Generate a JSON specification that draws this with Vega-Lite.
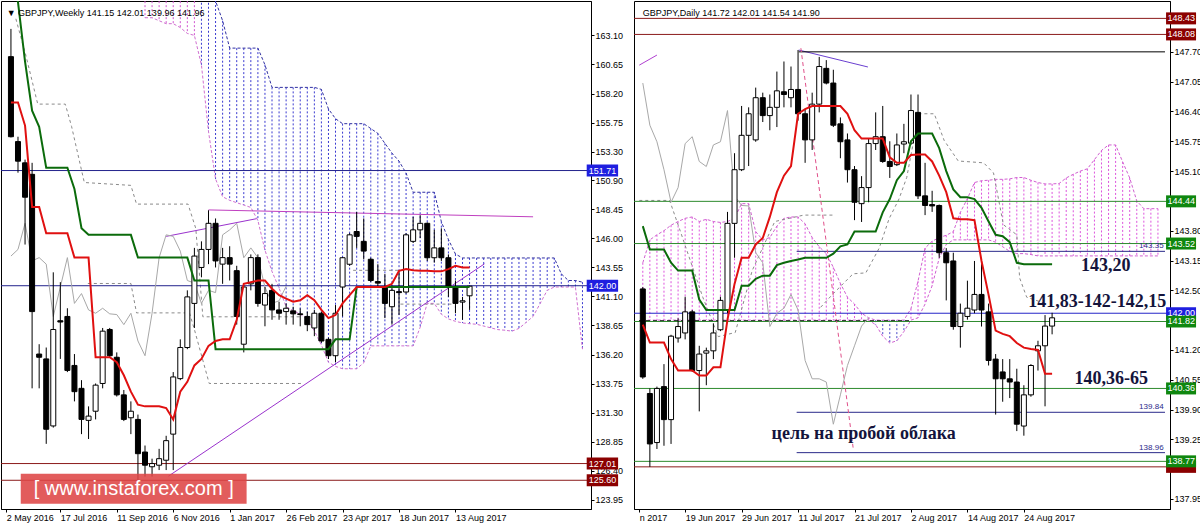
{
"$schema": "https://vega.github.io/schema/vega-lite/v6.json",
"background": "#ffffff",
"padding": 0,
"spacing": 9,
"config": {"view": {"stroke": "#000000", "strokeWidth": 1}, "text": {"font": "Liberation Sans"}, "axis": {"labelOverlap": false, "labelBound": false}},
"datasets": {
"wk": [
{"k":0,"o":161.31,"h":163.65,"l":154.5,"c":154.56,"tk":157.45,"kj":168},
{"k":1,"o":154.15,"h":154.56,"l":151.53,"c":152.5,"tk":157.45,"kj":165.9},
{"k":2,"o":152.36,"h":152.63,"l":145.47,"c":149.46,"tk":155.5,"kj":160.9},
{"k":3,"o":151.39,"h":152.36,"l":133.35,"c":139.82,"tk":148.64,"kj":156.76},
{"k":4,"o":136.24,"h":137.07,"l":133.35,"c":135.97,"tk":148.64,"kj":155.39},
{"k":5,"o":135.83,"h":136.79,"l":128.67,"c":129.9,"tk":146.43,"kj":151.94},
{"k":6,"o":130.18,"h":143.13,"l":130.04,"c":138.31,"tk":146.43,"kj":151.94},
{"k":7,"o":139.05,"h":142.3,"l":135.83,"c":138.94,"tk":146.43,"kj":151.94},
{"k":8,"o":139.41,"h":140.1,"l":134.72,"c":134.86,"tk":146.43,"kj":151.94},
{"k":9,"o":135.28,"h":136.24,"l":132.25,"c":133.07,"tk":144.37,"kj":150.15},
{"k":10,"o":133.35,"h":134.04,"l":129.49,"c":130.73,"tk":144.37,"kj":146.85},
{"k":11,"o":130.65,"h":131.83,"l":129.08,"c":131.01,"tk":144.37,"kj":146.29},
{"k":12,"o":131.42,"h":133.76,"l":130.73,"c":133.62,"tk":135.97,"kj":146.29},
{"k":13,"o":133.76,"h":138.44,"l":133.35,"c":138.17,"tk":135.97,"kj":146.29},
{"k":14,"o":138.31,"h":138.44,"l":135.97,"c":136.1,"tk":135.97,"kj":146.29},
{"k":15,"o":135.97,"h":136.38,"l":132.66,"c":132.8,"tk":135.55,"kj":146.29},
{"k":16,"o":132.8,"h":133.21,"l":130.59,"c":130.73,"tk":134.45,"kj":146.29},
{"k":17,"o":130.87,"h":132.25,"l":129.49,"c":131.42,"tk":133.07,"kj":146.29},
{"k":18,"o":130.73,"h":131.14,"l":125.6,"c":127.84,"tk":131.97,"kj":144.37},
{"k":19,"o":127.98,"h":128.53,"l":125.91,"c":126.87,"tk":131.83,"kj":144.37},
{"k":20,"o":126.74,"h":127.42,"l":125.91,"c":127.01,"tk":131.83,"kj":144.37},
{"k":21,"o":126.87,"h":128.25,"l":126.46,"c":127.42,"tk":131.83,"kj":144.37},
{"k":22,"o":127.29,"h":129.35,"l":126.46,"c":128.94,"tk":131.69,"kj":144.37},
{"k":23,"o":129.49,"h":134.72,"l":126.46,"c":134.31,"tk":130.73,"kj":144.37},
{"k":24,"o":134.17,"h":137.48,"l":134.04,"c":136.79,"tk":133.07,"kj":144.37},
{"k":25,"o":136.79,"h":141.61,"l":136.65,"c":141.06,"tk":133.9,"kj":144.37},
{"k":26,"o":140.51,"h":145.19,"l":138.44,"c":144.5,"tk":135.28,"kj":142.44},
{"k":27,"o":143.54,"h":145.74,"l":142.71,"c":145.06,"tk":135.83,"kj":142.44},
{"k":28,"o":145.06,"h":148.36,"l":143.82,"c":147.26,"tk":136.93,"kj":142.44},
{"k":29,"o":147.26,"h":147.67,"l":143.54,"c":144.09,"tk":137.34,"kj":136.65},
{"k":30,"o":143.82,"h":145.19,"l":142.16,"c":144.37,"tk":137.48,"kj":136.65},
{"k":31,"o":144.37,"h":145.33,"l":142.44,"c":143.82,"tk":137.48,"kj":136.65},
{"k":32,"o":143.27,"h":143.68,"l":138.72,"c":139.41,"tk":139.13,"kj":136.65},
{"k":33,"o":137.07,"h":142.03,"l":136.38,"c":141.89,"tk":142.16,"kj":136.65},
{"k":34,"o":142.16,"h":144.64,"l":141.61,"c":144.37,"tk":142.3,"kj":136.65},
{"k":35,"o":144.37,"h":144.64,"l":140.23,"c":140.51,"tk":142.44,"kj":136.65},
{"k":36,"o":140.37,"h":141.89,"l":138.58,"c":141.34,"tk":142.44,"kj":136.65},
{"k":37,"o":141.61,"h":142.16,"l":139.13,"c":139.96,"tk":141.75,"kj":136.65},
{"k":38,"o":139.96,"h":140.65,"l":139.13,"c":139.68,"tk":141.2,"kj":136.65},
{"k":39,"o":139.82,"h":140.51,"l":138.72,"c":140.1,"tk":140.92,"kj":136.65},
{"k":40,"o":139.88,"h":140.23,"l":138.72,"c":139.63,"tk":140.65,"kj":136.65},
{"k":41,"o":139.63,"h":140.09,"l":138.58,"c":139.57,"tk":140.78,"kj":136.65},
{"k":42,"o":139.41,"h":139.82,"l":138.17,"c":138.72,"tk":141.2,"kj":136.65},
{"k":43,"o":138.44,"h":139.96,"l":137.75,"c":139.68,"tk":140.78,"kj":136.65},
{"k":44,"o":139.68,"h":139.82,"l":137.2,"c":137.34,"tk":139.96,"kj":136.65},
{"k":45,"o":137.48,"h":137.62,"l":135.82,"c":136.1,"tk":139.27,"kj":136.65},
{"k":46,"o":136.1,"h":140.37,"l":135.55,"c":139.68,"tk":139.54,"kj":137.48},
{"k":47,"o":141.89,"h":144.42,"l":139.41,"c":144.36,"tk":140.51,"kj":137.48},
{"k":48,"o":143.81,"h":146.43,"l":143.68,"c":146.29,"tk":141.2,"kj":137.48},
{"k":49,"o":146.57,"h":148.22,"l":145.19,"c":146.16,"tk":141.89,"kj":141.89},
{"k":50,"o":145.74,"h":147.67,"l":144.23,"c":144.92,"tk":141.89,"kj":141.89},
{"k":51,"o":144.23,"h":144.36,"l":142.3,"c":142.44,"tk":141.89,"kj":141.89},
{"k":52,"o":142.35,"h":143.81,"l":141.89,"c":142.22,"tk":141.89,"kj":141.89},
{"k":53,"o":141.89,"h":142.99,"l":139.27,"c":140.51,"tk":141.89,"kj":141.89},
{"k":54,"o":140.23,"h":142.02,"l":138.72,"c":141.61,"tk":142.16,"kj":141.89},
{"k":55,"o":141.5,"h":143.26,"l":139.54,"c":141.42,"tk":143.26,"kj":141.89},
{"k":56,"o":141.47,"h":146.43,"l":141.33,"c":146.29,"tk":143.4,"kj":141.89},
{"k":57,"o":145.74,"h":147.81,"l":145.6,"c":146.71,"tk":143.3,"kj":141.89},
{"k":58,"o":146.71,"h":147.95,"l":146.02,"c":147.26,"tk":143.26,"kj":141.89},
{"k":59,"o":147.26,"h":147.34,"l":144.09,"c":144.36,"tk":143.26,"kj":141.89},
{"k":60,"o":144.36,"h":146.71,"l":143.95,"c":145.19,"tk":143.21,"kj":141.89},
{"k":61,"o":145.19,"h":146.84,"l":144.09,"c":144.36,"tk":143.21,"kj":141.89},
{"k":62,"o":144.36,"h":144.64,"l":141.06,"c":141.89,"tk":143.4,"kj":141.89},
{"k":63,"o":141.89,"h":142.44,"l":139.68,"c":140.51,"tk":143.68,"kj":141.89},
{"k":64,"o":140.62,"h":141.06,"l":139.13,"c":140.73,"tk":143.54,"kj":141.89},
{"k":65,"o":141.15,"h":142.01,"l":139.96,"c":141.96,"tk":143.54,"kj":141.89}
],
"wkCh": [
{"k":0,"v":144.5},{"k":1,"v":145.06},{"k":2,"v":147.26},{"k":3,"v":144.09},{"k":4,"v":144.37},{"k":5,"v":143.82},{"k":6,"v":139.41},{"k":7,"v":141.89},{"k":8,"v":144.37},{"k":9,"v":140.51},{"k":10,"v":141.34},{"k":11,"v":139.96},{"k":12,"v":139.68},{"k":13,"v":140.1},{"k":14,"v":139.63},{"k":15,"v":139.57},{"k":16,"v":138.72},{"k":17,"v":139.68},{"k":18,"v":137.34},{"k":19,"v":136.1},{"k":20,"v":139.68},{"k":21,"v":144.36},{"k":22,"v":146.29},{"k":23,"v":146.16},{"k":24,"v":144.92},{"k":25,"v":142.44},{"k":26,"v":142.22},{"k":27,"v":140.51},{"k":28,"v":141.61},{"k":29,"v":141.42},{"k":30,"v":146.29},{"k":31,"v":146.71},{"k":32,"v":147.26},{"k":33,"v":144.36},{"k":34,"v":145.19},{"k":35,"v":144.36},{"k":36,"v":141.89},{"k":37,"v":140.51},{"k":38,"v":140.73},{"k":39,"v":141.96}
],
"wkCloud": [
{"k":19,"a":167,"b":164.59,"col":"#d055d0"},{"k":20,"a":167,"b":164.59,"col":"#d055d0"},{"k":21,"a":167,"b":164.34,"col":"#d055d0"},{"k":22,"a":167,"b":164.09,"col":"#d055d0"},{"k":23,"a":167,"b":164.09,"col":"#d055d0"},{"k":24,"a":167,"b":163.76,"col":"#d055d0"},{"k":25,"a":167,"b":163.27,"col":"#d055d0"},{"k":26,"a":167,"b":163.1,"col":"#d055d0"},
{"k":27,"a":167.2,"b":160.6,"col":"#3a3ad0"},{"k":28,"a":167.2,"b":155.0,"col":"#3a3ad0"},{"k":29,"a":166,"b":151.0,"col":"#3a3ad0"},{"k":30,"a":164.34,"b":149.5,"col":"#3a3ad0"},{"k":31,"a":162.03,"b":149.2,"col":"#3a3ad0"},{"k":32,"a":162.03,"b":149.0,"col":"#3a3ad0"},{"k":33,"a":162.03,"b":148.8,"col":"#3a3ad0"},{"k":34,"a":162.03,"b":148.6,"col":"#3a3ad0"},{"k":35,"a":162.03,"b":147.5,"col":"#3a3ad0"},{"k":36,"a":160.62,"b":145.0,"col":"#3a3ad0"},{"k":37,"a":158.72,"b":143.2,"col":"#3a3ad0"},{"k":38,"a":158.72,"b":141.8,"col":"#3a3ad0"},{"k":39,"a":158.72,"b":140.23,"col":"#3a3ad0"},{"k":40,"a":158.72,"b":139.9,"col":"#3a3ad0"},{"k":41,"a":158.72,"b":139.6,"col":"#3a3ad0"},{"k":42,"a":158.72,"b":139.2,"col":"#3a3ad0"},{"k":43,"a":158.72,"b":138.2,"col":"#3a3ad0"},{"k":44,"a":158.55,"b":137.0,"col":"#3a3ad0"},{"k":45,"a":156.9,"b":135.55,"col":"#3a3ad0"},{"k":46,"a":156.08,"b":135.2,"col":"#3a3ad0"},{"k":47,"a":155.66,"b":135.0,"col":"#3a3ad0"},{"k":48,"a":155.66,"b":135.0,"col":"#3a3ad0"},{"k":49,"a":155.66,"b":135.0,"col":"#3a3ad0"},{"k":50,"a":155.66,"b":135.5,"col":"#3a3ad0"},{"k":51,"a":155.25,"b":136.93,"col":"#3a3ad0"},{"k":52,"a":154.84,"b":136.93,"col":"#3a3ad0"},{"k":53,"a":154.0,"b":136.93,"col":"#3a3ad0"},{"k":54,"a":153.18,"b":136.93,"col":"#3a3ad0"},{"k":55,"a":152.5,"b":136.93,"col":"#3a3ad0"},{"k":56,"a":151.5,"b":136.93,"col":"#3a3ad0"},{"k":57,"a":149.88,"b":136.93,"col":"#3a3ad0"},{"k":58,"a":149.88,"b":138.5,"col":"#3a3ad0"},{"k":59,"a":149.88,"b":140.51,"col":"#3a3ad0"},{"k":60,"a":149.88,"b":140.51,"col":"#3a3ad0"},{"k":61,"a":147.4,"b":139.6,"col":"#3a3ad0"},{"k":62,"a":145.9,"b":139.2,"col":"#3a3ad0"},{"k":63,"a":144.67,"b":139.0,"col":"#3a3ad0"},{"k":64,"a":144.34,"b":138.86,"col":"#3a3ad0"},{"k":65,"a":144.34,"b":138.8,"col":"#3a3ad0"},{"k":66,"a":144.34,"b":138.75,"col":"#3a3ad0"},{"k":67,"a":144.34,"b":138.6,"col":"#3a3ad0"},{"k":68,"a":144.34,"b":138.45,"col":"#3a3ad0"},{"k":69,"a":144.34,"b":138.3,"col":"#3a3ad0"},{"k":70,"a":144.34,"b":138.25,"col":"#3a3ad0"},{"k":71,"a":144.34,"b":138.17,"col":"#3a3ad0"},{"k":72,"a":144.34,"b":138.4,"col":"#3a3ad0"},{"k":73,"a":144.34,"b":138.9,"col":"#3a3ad0"},{"k":74,"a":144.34,"b":139.41,"col":"#3a3ad0"},{"k":75,"a":144.34,"b":140.5,"col":"#3a3ad0"},{"k":76,"a":144.34,"b":141.61,"col":"#3a3ad0"},{"k":77,"a":144.34,"b":141.89,"col":"#3a3ad0"},{"k":78,"a":143.0,"b":141.89,"col":"#3a3ad0"},{"k":79,"a":142.44,"b":141.89,"col":"#3a3ad0"},{"k":80,"a":142.44,"b":141.89,"col":"#3a3ad0"},{"k":81,"a":142.3,"b":136.65,"col":"#3a3ad0"}
],
"wkGray": [
{"id":1,"k":0.7,"v":164.5},{"id":1,"k":2.1,"v":161.45},{"id":1,"k":3.8,"v":157.31},{"id":1,"k":7.7,"v":157.31},{"id":1,"k":8.6,"v":155.41},{"id":1,"k":10.4,"v":150.7},{"id":1,"k":17.0,"v":150.46},{"id":1,"k":17.8,"v":148.88},{"id":1,"k":25.1,"v":148.88},{"id":1,"k":26.2,"v":146.82},{"id":1,"k":27.2,"v":139.38},{"id":1,"k":41.1,"v":139.38},
{"id":2,"k":10.9,"v":142.19},{"id":2,"k":17.0,"v":142.19},{"id":2,"k":17.8,"v":139.71},{"id":2,"k":25.3,"v":139.71},{"id":2,"k":26.0,"v":138.31},{"id":2,"k":28.1,"v":133.76},{"id":2,"k":41.1,"v":133.76},
{"id":3,"k":48.5,"v":143.3},{"id":3,"k":55.2,"v":143.3},
{"id":4,"k":55.2,"v":140.45},{"id":4,"k":62.5,"v":140.45}
],
"wkLev": [
{"v":151.71,"col":"#23238c","bg":"#1f1fe0","lbl":"151.71"},
{"v":142.0,"col":"#23238c","bg":"#1f1fe0","lbl":"142.00"},
{"v":127.01,"col":"#8b1a1a","bg":"#8b0000","lbl":"127.01"},
{"v":125.6,"col":"#8b1a1a","bg":"#8b0000","lbl":"125.60"}
],
"wkSeg": [
{"x1":28,"y1":148.39,"x2":74,"y2":147.81,"col":"#c040c0"},
{"x1":22,"y1":146.16,"x2":34.8,"y2":147.65,"col":"#9a32cd"},
{"x1":22.3,"y1":125.94,"x2":67.1,"y2":143.84,"col":"#9a32cd"}
],
"dy": [
{"d":-6,"o":142.53,"h":142.57,"l":140.57,"c":140.61,"tk":141.75,"kj":143.9},
{"d":-5,"o":140.25,"h":140.36,"l":138.65,"c":139.15,"tk":141.36,"kj":143.39},
{"d":-4,"o":139.18,"h":140.4,"l":139.04,"c":140.36,"tk":141.36,"kj":143.39},
{"d":-3,"o":140.4,"h":140.89,"l":139.11,"c":139.68,"tk":141.36,"kj":143.39},
{"d":-2,"o":139.68,"h":141.53,"l":139.15,"c":141.5,"tk":141.0,"kj":143.1},
{"d":-1,"o":141.46,"h":141.89,"l":141.36,"c":141.71,"tk":140.75,"kj":142.93},
{"d":0,"o":141.57,"h":142.36,"l":141.43,"c":142.03,"tk":140.75,"kj":142.93},
{"d":1,"o":142.03,"h":142.07,"l":140.72,"c":140.75,"tk":140.75,"kj":142.93},
{"d":2,"o":140.75,"h":141.29,"l":139.86,"c":141.11,"tk":140.64,"kj":142.3},
{"d":3,"o":141.13,"h":141.25,"l":140.43,"c":141.18,"tk":140.64,"kj":142.07},
{"d":4,"o":141.18,"h":141.78,"l":141.0,"c":141.57,"tk":140.82,"kj":142.07},
{"d":5,"o":141.64,"h":142.36,"l":141.61,"c":142.28,"tk":140.82,"kj":142.07},
{"d":6,"o":142.07,"h":144.21,"l":142.0,"c":143.96,"tk":141.86,"kj":142.07},
{"d":7,"o":143.96,"h":145.49,"l":143.21,"c":145.13,"tk":142.64,"kj":142.07},
{"d":8,"o":145.13,"h":146.52,"l":145.1,"c":145.88,"tk":143.21,"kj":142.6},
{"d":9,"o":145.88,"h":146.49,"l":145.21,"c":146.35,"tk":143.21,"kj":142.6},
{"d":10,"o":145.78,"h":146.92,"l":145.74,"c":146.7,"tk":143.5,"kj":142.75},
{"d":11,"o":146.7,"h":146.81,"l":146.17,"c":146.31,"tk":143.64,"kj":142.82},
{"d":12,"o":146.31,"h":146.77,"l":145.99,"c":146.49,"tk":144.1,"kj":142.82},
{"d":13,"o":146.49,"h":147.27,"l":146.06,"c":146.85,"tk":144.64,"kj":143.05},
{"d":14,"o":146.83,"h":147.49,"l":146.49,"c":146.77,"tk":145.0,"kj":143.1},
{"d":15,"o":146.7,"h":147.38,"l":146.49,"c":146.88,"tk":145.21,"kj":143.14},
{"d":16,"o":146.88,"h":147.74,"l":146.2,"c":146.35,"tk":146.35,"kj":143.17},
{"d":17,"o":146.35,"h":146.45,"l":145.28,"c":145.78,"tk":146.45,"kj":143.21},
{"d":18,"o":145.78,"h":146.81,"l":145.56,"c":146.56,"tk":146.52,"kj":143.21},
{"d":19,"o":146.56,"h":147.59,"l":146.38,"c":147.38,"tk":146.52,"kj":143.21},
{"d":20,"o":147.34,"h":147.52,"l":146.99,"c":147.02,"tk":146.52,"kj":143.21},
{"d":21,"o":147.02,"h":147.31,"l":146.06,"c":146.1,"tk":146.52,"kj":143.3},
{"d":22,"o":146.13,"h":146.27,"l":145.38,"c":145.74,"tk":146.52,"kj":143.46},
{"d":23,"o":145.78,"h":145.92,"l":144.85,"c":145.13,"tk":146.35,"kj":143.5},
{"d":24,"o":145.13,"h":145.21,"l":144.03,"c":144.42,"tk":145.99,"kj":143.78},
{"d":25,"o":144.39,"h":144.99,"l":143.99,"c":144.74,"tk":145.81,"kj":143.78},
{"d":26,"o":144.74,"h":145.81,"l":144.42,"c":145.7,"tk":145.81,"kj":143.78},
{"d":27,"o":145.7,"h":146.38,"l":145.56,"c":145.85,"tk":145.81,"kj":143.78},
{"d":28,"o":145.85,"h":146.52,"l":145.28,"c":145.31,"tk":145.81,"kj":144.2},
{"d":29,"o":145.31,"h":145.75,"l":144.95,"c":145.2,"tk":145.4,"kj":144.49},
{"d":30,"o":145.24,"h":145.92,"l":145.21,"c":145.67,"tk":145.28,"kj":144.9},
{"d":31,"o":145.69,"h":146.13,"l":145.49,"c":145.74,"tk":145.28,"kj":145.1},
{"d":32,"o":145.71,"h":146.77,"l":145.67,"c":146.42,"tk":145.45,"kj":145.75},
{"d":33,"o":146.38,"h":146.77,"l":144.49,"c":144.56,"tk":145.46,"kj":145.92},
{"d":34,"o":144.56,"h":145.28,"l":144.14,"c":144.35,"tk":145.46,"kj":145.92},
{"d":35,"o":144.37,"h":144.67,"l":144.21,"c":144.34,"tk":145.31,"kj":145.92},
{"d":36,"o":144.35,"h":144.37,"l":143.21,"c":143.32,"tk":145.0,"kj":145.6},
{"d":37,"o":143.32,"h":143.42,"l":142.28,"c":143.1,"tk":144.64,"kj":145.1},
{"d":38,"o":143.14,"h":143.32,"l":141.64,"c":141.71,"tk":144.07,"kj":144.7},
{"d":39,"o":141.71,"h":142.21,"l":141.25,"c":142.0,"tk":144.05,"kj":144.53},
{"d":40,"o":141.93,"h":142.71,"l":141.86,"c":142.11,"tk":144.05,"kj":144.53},
{"d":41,"o":142.07,"h":143.14,"l":142.0,"c":142.41,"tk":144.03,"kj":144.49},
{"d":42,"o":142.41,"h":143.07,"l":141.71,"c":142.07,"tk":143.14,"kj":144.3},
{"d":43,"o":142.03,"h":142.21,"l":140.86,"c":140.97,"tk":142.4,"kj":144.0},
{"d":44,"o":141.0,"h":141.11,"l":139.79,"c":140.57,"tk":141.62,"kj":143.71},
{"d":45,"o":140.72,"h":141.0,"l":140.07,"c":140.57,"tk":141.55,"kj":143.68},
{"d":46,"o":140.57,"h":141.0,"l":140.15,"c":140.5,"tk":141.5,"kj":143.55},
{"d":47,"o":140.5,"h":140.79,"l":139.43,"c":139.58,"tk":141.35,"kj":143.1},
{"d":48,"o":139.54,"h":140.43,"l":139.33,"c":140.22,"tk":141.25,"kj":143.07},
{"d":49,"o":140.22,"h":140.89,"l":140.18,"c":140.86,"tk":141.22,"kj":143.07},
{"d":50,"o":141.18,"h":141.4,"l":140.75,"c":141.29,"tk":141.2,"kj":143.07},
{"d":51,"o":141.29,"h":141.96,"l":139.97,"c":141.72,"tk":140.68,"kj":143.07},
{"d":52,"o":141.72,"h":142.01,"l":141.54,"c":141.9,"tk":140.68,"kj":143.07}
],
"dyCh": [
{"d":-6,"v":147.02},{"d":-5,"v":146.1},{"d":-4,"v":145.74},{"d":-3,"v":145.13},{"d":-2,"v":144.42},{"d":-1,"v":144.74},{"d":0,"v":145.7},{"d":1,"v":145.85},{"d":2,"v":145.31},{"d":3,"v":145.2},{"d":4,"v":145.67},{"d":5,"v":145.74},{"d":6,"v":146.42},{"d":7,"v":144.56},{"d":8,"v":144.35},{"d":9,"v":144.34},{"d":10,"v":143.32},{"d":11,"v":143.1},{"d":12,"v":141.71},{"d":13,"v":142.0},{"d":14,"v":142.11},{"d":15,"v":142.41},{"d":16,"v":142.07},{"d":17,"v":140.97},{"d":18,"v":140.57},{"d":19,"v":140.57},{"d":20,"v":140.5},{"d":21,"v":139.58},{"d":22,"v":140.22},{"d":23,"v":140.86},{"d":24,"v":141.29},{"d":25,"v":141.72},{"d":26,"v":141.9}
],
"dyCloud": [
{"d":-6,"a":143.1,"b":141.85,"col":"#dd55dd"},{"d":-5,"a":143.6,"b":141.85,"col":"#dd55dd"},{"d":-4,"a":143.71,"b":141.85,"col":"#dd55dd"},{"d":-3,"a":143.8,"b":141.85,"col":"#dd55dd"},{"d":-2,"a":143.92,"b":141.85,"col":"#dd55dd"},{"d":-1,"a":144.0,"b":141.85,"col":"#dd55dd"},{"d":0,"a":144.07,"b":141.85,"col":"#dd55dd"},{"d":1,"a":144.1,"b":141.85,"col":"#dd55dd"},{"d":2,"a":144.0,"b":141.85,"col":"#dd55dd"},{"d":3,"a":144.05,"b":141.85,"col":"#dd55dd"},{"d":4,"a":144.0,"b":141.85,"col":"#dd55dd"},{"d":5,"a":143.98,"b":141.85,"col":"#dd55dd"},{"d":6,"a":144.0,"b":141.85,"col":"#dd55dd"},{"d":7,"a":144.07,"b":141.85,"col":"#dd55dd"},{"d":8,"a":144.39,"b":141.85,"col":"#dd55dd"},{"d":9,"a":144.39,"b":141.85,"col":"#dd55dd"},{"d":10,"a":143.78,"b":141.85,"col":"#dd55dd"},{"d":11,"a":143.6,"b":141.85,"col":"#dd55dd"},{"d":12,"a":143.65,"b":141.85,"col":"#dd55dd"},{"d":13,"a":143.9,"b":141.85,"col":"#dd55dd"},{"d":14,"a":144.07,"b":141.85,"col":"#dd55dd"},{"d":15,"a":144.1,"b":141.85,"col":"#dd55dd"},{"d":16,"a":144.1,"b":141.85,"col":"#dd55dd"},{"d":17,"a":143.95,"b":141.85,"col":"#dd55dd"},{"d":18,"a":143.65,"b":141.85,"col":"#dd55dd"},{"d":19,"a":143.45,"b":141.85,"col":"#dd55dd"},{"d":20,"a":143.3,"b":141.85,"col":"#dd55dd"},{"d":21,"a":143.0,"b":141.85,"col":"#dd55dd"},{"d":22,"a":142.65,"b":141.85,"col":"#dd55dd"},{"d":23,"a":142.35,"b":141.85,"col":"#dd55dd"},{"d":24,"a":142.2,"b":141.85,"col":"#dd55dd"},{"d":25,"a":142.0,"b":141.85,"col":"#dd55dd"},{"d":26,"a":141.9,"b":141.85,"col":"#dd55dd"},
{"d":27,"a":141.85,"b":141.75,"col":"#4848c8"},{"d":28,"a":141.85,"b":141.5,"col":"#4848c8"},{"d":29,"a":141.85,"b":141.35,"col":"#4848c8"},{"d":30,"a":141.85,"b":141.4,"col":"#4848c8"},{"d":31,"a":141.85,"b":141.6,"col":"#4848c8"},
{"d":32,"a":142.1,"b":141.85,"col":"#dd55dd"},{"d":33,"a":142.7,"b":141.9,"col":"#dd55dd"},{"d":34,"a":143.42,"b":142.2,"col":"#dd55dd"},{"d":35,"a":143.57,"b":142.6,"col":"#dd55dd"},{"d":36,"a":143.65,"b":143.2,"col":"#dd55dd"},{"d":37,"a":143.7,"b":143.5,"col":"#dd55dd"},{"d":38,"a":143.78,"b":143.6,"col":"#dd55dd"},{"d":39,"a":144.2,"b":143.6,"col":"#dd55dd"},{"d":40,"a":144.5,"b":143.6,"col":"#dd55dd"},{"d":41,"a":144.85,"b":143.6,"col":"#dd55dd"},{"d":42,"a":144.89,"b":143.6,"col":"#dd55dd"},{"d":43,"a":144.9,"b":143.6,"col":"#dd55dd"},{"d":44,"a":144.92,"b":143.55,"col":"#dd55dd"},{"d":45,"a":144.92,"b":143.45,"col":"#dd55dd"},{"d":46,"a":144.93,"b":143.35,"col":"#dd55dd"},{"d":47,"a":144.96,"b":143.3,"col":"#dd55dd"},{"d":48,"a":144.96,"b":143.3,"col":"#dd55dd"},{"d":49,"a":144.9,"b":143.28,"col":"#dd55dd"},{"d":50,"a":144.85,"b":143.25,"col":"#dd55dd"},{"d":51,"a":144.82,"b":143.25,"col":"#dd55dd"},{"d":52,"a":144.82,"b":143.25,"col":"#dd55dd"},{"d":53,"a":144.83,"b":143.25,"col":"#dd55dd"},{"d":54,"a":144.95,"b":143.25,"col":"#dd55dd"},{"d":55,"a":145.03,"b":143.25,"col":"#dd55dd"},{"d":56,"a":145.1,"b":143.25,"col":"#dd55dd"},{"d":57,"a":145.15,"b":143.25,"col":"#dd55dd"},{"d":58,"a":145.35,"b":143.25,"col":"#dd55dd"},{"d":59,"a":145.55,"b":143.25,"col":"#dd55dd"},{"d":60,"a":145.67,"b":143.25,"col":"#dd55dd"},{"d":61,"a":145.67,"b":143.25,"col":"#dd55dd"},{"d":62,"a":145.3,"b":143.25,"col":"#dd55dd"},{"d":63,"a":144.95,"b":143.25,"col":"#dd55dd"},{"d":64,"a":144.45,"b":143.25,"col":"#dd55dd"},{"d":65,"a":144.28,"b":143.25,"col":"#dd55dd"},{"d":66,"a":144.28,"b":143.25,"col":"#dd55dd"},{"d":67,"a":144.28,"b":143.25,"col":"#dd55dd"}
],
"dyGray": [
{"id":1,"d":19.2,"v":142.13},{"id":1,"d":21.0,"v":142.43},{"id":1,"d":23.8,"v":142.86},{"id":1,"d":25.6,"v":142.88},{"id":1,"d":27.5,"v":143.42},{"id":1,"d":28.9,"v":144.06},{"id":1,"d":30.3,"v":144.49},{"id":1,"d":31.4,"v":144.96},{"id":1,"d":33.1,"v":146.35},{"id":1,"d":35.3,"v":146.35},{"id":1,"d":36.7,"v":145.77},{"id":1,"d":38.7,"v":145.32},{"id":1,"d":42.3,"v":145.28},{"id":1,"d":43.7,"v":145.06},{"id":1,"d":45.1,"v":143.93},{"id":1,"d":47.0,"v":143.71},{"id":1,"d":47.4,"v":142.77},{"id":1,"d":48.4,"v":142.35},{"id":1,"d":50.9,"v":142.22},
{"id":2,"d":-6.5,"v":144.46},{"id":2,"d":-2.2,"v":144.46},{"id":2,"d":-0.8,"v":143.84},{"id":2,"d":2.5,"v":142.35},{"id":2,"d":4.7,"v":141.49},{"id":2,"d":7.1,"v":141.58},{"id":2,"d":9.5,"v":142.93},{"id":2,"d":12.7,"v":144.0},{"id":2,"d":16.8,"v":144.14},{"id":2,"d":21.0,"v":144.14}
],
"dyLev": [
{"v":148.43,"col":"#8b1a1a","bg":"#8b0000","lbl":"148.43"},
{"v":148.08,"col":"#8b1a1a","bg":"#8b0000","lbl":"148.08"},
{"v":144.44,"col":"#2e8b2e","bg":"#0f870f","lbl":"144.44"},
{"v":143.52,"col":"#2e8b2e","bg":"#0f870f","lbl":"143.52"},
{"v":142.0,"col":"#2525c8","bg":"#1f1fe0","lbl":"142.00"},
{"v":141.82,"col":"#2e8b2e","bg":"#0f870f","lbl":"141.82"},
{"v":140.36,"col":"#2e8b2e","bg":"#0f870f","lbl":"140.36"},
{"v":138.65,"col":"#8b1a1a","bg":"#8b0000","lbl":""},
{"v":138.77,"col":"#2e8b2e","bg":"#0f870f","lbl":"138.77"}
],
"dySeg": [
{"x1":16.1,"y1":147.74,"x2":25.9,"y2":147.37,"col":"#6a3fd0"},
{"x1":-6.5,"y1":147.41,"x2":-4.0,"y2":147.63,"col":"#b040d0"},
{"x1":16.1,"y1":147.7,"x2":68,"y2":147.7,"col":"#000000"},
{"x1":15.8,"y1":143.35,"x2":68,"y2":143.35,"col":"#2a2a8a"},
{"x1":15.8,"y1":139.84,"x2":68,"y2":139.84,"col":"#2a2a8a"},
{"x1":15.8,"y1":138.96,"x2":68,"y2":138.96,"col":"#2a2a8a"}
],
"dyDash": [
{"x1":16.4,"y1":147.78,"x2":23.8,"y2":139.07,"col":"#e0508a"},
{"x1":-6.54,"y1":141.84,"x2":32,"y2":141.84,"col":"#333333"}
],
"dySmall": [
{"d":67.8,"v":143.35,"t":"143.35"},
{"d":67.8,"v":139.84,"t":"139.84"},
{"d":67.8,"v":138.96,"t":"138.96"}
],
"dyAnn": [
{"d":59.6,"v":143.03,"t":"143,20"},
{"d":58.4,"v":142.25,"t":"141,83-142-142,15"},
{"d":60.4,"v":140.57,"t":"140,36-65"},
{"d":25.3,"v":139.36,"t":"цель на пробой облака"}
]
},
"hconcat": [
{
"width": 590, "height": 508,
"layer": [
{"data": {"name": "wkCloud"},
 "mark": {"type": "rule", "strokeDash": [2, 2], "strokeWidth": 1, "clip": true},
 "encoding": {
  "x": {"field": "k", "type": "quantitative", "title": null, "scale": {"domain": [-0.7, 81.5], "nice": false, "zero": false},
        "axis": {"title": null, "grid": false, "tickCount": 40, "values": [-0.68, 7, 15, 23, 31, 39, 47, 55, 63],
                 "labelExpr": "datum.value < 0 ? '2 May 2016' : datum.value == 7 ? '17 Jul 2016' : datum.value == 15 ? '11 Sep 2016' : datum.value == 23 ? '6 Nov 2016' : datum.value == 31 ? '1 Jan 2017' : datum.value == 39 ? '26 Feb 2017' : datum.value == 47 ? '23 Apr 2017' : datum.value == 55 ? '18 Jun 2017' : '13 Aug 2017'",
                 "labelAlign": "left", "labelPadding": 1, "tickSize": 3, "labelFont": "Liberation Sans", "labelFontSize": 9, "labelColor": "#000000", "domainColor": "#000000", "tickColor": "#000000", "labelOverlap": false, "labelFlush": false, "labelBound": false}},
  "y": {"field": "a", "type": "quantitative", "title": null, "scale": {"domain": [123.6, 165.58], "nice": false, "zero": false},
        "axis": {"title": null, "grid": false, "orient": "right", "tickCount": 40, "values": [163.1, 160.65, 158.2, 155.75, 153.3, 150.9, 148.45, 146.0, 143.55, 141.1, 138.65, 136.2, 133.75, 131.3, 128.85, 126.4, 123.95],
                 "format": ".2f", "tickSize": 3, "labelPadding": 1, "labelFont": "Liberation Sans", "labelFontSize": 9, "labelColor": "#000000", "domainColor": "#000000", "tickColor": "#000000", "labelOverlap": false, "labelFlush": false}},
  "y2": {"field": "b"},
  "color": {"field": "col", "type": "nominal", "scale": null}
 }},
{"data": {"name": "wkCloud"}, "transform": [{"filter": "datum.k >= 27"}],
 "mark": {"type": "line", "strokeDash": [3, 2], "strokeWidth": 1, "color": "#3030a0", "clip": true},
 "encoding": {"x": {"field": "k", "type": "quantitative", "title": null}, "y": {"field": "a", "type": "quantitative", "title": null}}},
{"data": {"name": "wkCloud"},
 "mark": {"type": "line", "strokeDash": [3, 2], "strokeWidth": 1, "color": "#d070d0", "clip": true},
 "encoding": {"x": {"field": "k", "type": "quantitative", "title": null}, "y": {"field": "b", "type": "quantitative", "title": null}}},
{"data": {"name": "wkGray"},
 "mark": {"type": "line", "strokeDash": [3, 3], "strokeWidth": 1, "color": "#8a8a8a", "clip": true},
 "encoding": {"x": {"field": "k", "type": "quantitative", "title": null}, "y": {"field": "v", "type": "quantitative", "title": null}, "detail": {"field": "id", "type": "nominal"}}},
{"data": {"name": "wkLev"},
 "mark": {"type": "rule", "strokeWidth": 1},
 "encoding": {"y": {"field": "v", "type": "quantitative", "title": null}, "color": {"field": "col", "type": "nominal", "scale": null}}},
{"data": {"name": "wkSeg"},
 "mark": {"type": "rule", "strokeWidth": 1, "clip": true},
 "encoding": {"x": {"field": "x1", "type": "quantitative", "title": null}, "x2": {"field": "x2"}, "y": {"field": "y1", "type": "quantitative", "title": null}, "y2": {"field": "y2"}, "color": {"field": "col", "type": "nominal", "scale": null}}},
{"data": {"name": "wkCh"},
 "mark": {"type": "line", "strokeWidth": 1, "color": "#a8a8a8", "clip": true},
 "encoding": {"x": {"field": "k", "type": "quantitative", "title": null}, "y": {"field": "v", "type": "quantitative", "title": null}}},
{"data": {"name": "wk"},
 "mark": {"type": "rule", "strokeWidth": 1, "color": "#000000", "clip": true},
 "encoding": {"x": {"field": "k", "type": "quantitative", "title": null}, "y": {"field": "l", "type": "quantitative", "title": null}, "y2": {"field": "h"}}},
{"data": {"name": "wk"},
 "mark": {"type": "bar", "orient": "vertical", "size": 5, "stroke": "#000000", "strokeWidth": 1, "clip": true},
 "encoding": {"x": {"field": "k", "type": "quantitative", "title": null}, "y": {"field": "o", "type": "quantitative", "title": null}, "y2": {"field": "c"},
  "fill": {"condition": {"test": "datum.c >= datum.o", "value": "#ffffff"}, "value": "#000000"}}},
{"data": {"name": "wk"},
 "mark": {"type": "line", "strokeWidth": 2, "color": "#0b6b0b", "clip": true},
 "encoding": {"x": {"field": "k", "type": "quantitative", "title": null}, "y": {"field": "kj", "type": "quantitative", "title": null}}},
{"data": {"name": "wk"},
 "mark": {"type": "line", "strokeWidth": 2, "color": "#e01010", "clip": true},
 "encoding": {"x": {"field": "k", "type": "quantitative", "title": null}, "y": {"field": "tk", "type": "quantitative", "title": null}}},
{"data": {"values": [{}]},
 "mark": {"type": "rect", "color": "#de4646", "opacity": 0.88},
 "encoding": {"x": {"datum": 1.39}, "x2": {"datum": 33.4}, "y": {"datum": 126.16}, "y2": {"datum": 123.62}}},
{"data": {"values": [{}]},
 "mark": {"type": "text", "text": "[  www.instaforex.com ]", "font": "Liberation Sans", "fontSize": 20, "color": "#ffffff", "align": "center", "baseline": "middle"},
 "encoding": {"x": {"datum": 17.4}, "y": {"datum": 124.9}}},
{"data": {"values": [{}]},
 "mark": {"type": "text", "text": "▼ GBPJPY,Weekly  141.15 142.01 139.96 141.96", "font": "Liberation Sans", "fontSize": 9, "color": "#000000", "align": "left", "baseline": "middle"},
 "encoding": {"x": {"datum": -0.6}, "y": {"datum": 165.0}}},
{"data": {"name": "wkLev"},
 "mark": {"type": "bar", "orient": "horizontal", "size": 12},
 "encoding": {"x": {"datum": 81.6}, "x2": {"datum": 86.05}, "y": {"field": "v", "type": "quantitative", "title": null}, "fill": {"field": "bg", "type": "nominal", "scale": null}}},
{"data": {"name": "wkLev"},
 "mark": {"type": "text", "font": "Liberation Sans", "fontSize": 9, "color": "#ffffff", "align": "center", "baseline": "middle"},
 "encoding": {"x": {"datum": 83.85}, "y": {"field": "v", "type": "quantitative", "title": null}, "text": {"field": "lbl"}}}
]
},
{
"width": 536, "height": 508,
"layer": [
{"data": {"name": "dyCloud"},
 "mark": {"type": "rule", "strokeDash": [2, 2], "strokeWidth": 1, "clip": true},
 "encoding": {
  "x": {"field": "d", "type": "quantitative", "title": null, "scale": {"domain": [-6.54, 68.0], "nice": false, "zero": false},
        "axis": {"title": null, "grid": false, "tickCount": 40, "values": [-6.5, 0, 8, 16, 24, 32, 40, 48],
                 "labelExpr": "datum.value < -6 ? 'n 2017' : datum.value == 0 ? '19 Jun 2017' : datum.value == 8 ? '29 Jun 2017' : datum.value == 16 ? '11 Jul 2017' : datum.value == 24 ? '21 Jul 2017' : datum.value == 32 ? '2 Aug 2017' : datum.value == 40 ? '14 Aug 2017' : '24 Aug 2017'",
                 "labelAlign": "left", "labelPadding": 1, "tickSize": 3, "labelFont": "Liberation Sans", "labelFontSize": 9, "labelColor": "#000000", "domainColor": "#000000", "tickColor": "#000000", "labelOverlap": false, "labelFlush": false, "labelBound": false}},
  "y": {"field": "a", "type": "quantitative", "title": null, "scale": {"domain": [137.84, 148.7], "nice": false, "zero": false},
        "axis": {"title": null, "grid": false, "orient": "right", "tickCount": 40, "values": [137.95, 139.25, 139.9, 140.55, 141.2, 142.5, 143.15, 143.8, 145.1, 145.75, 146.4, 147.05, 147.7],
                 "format": ".2f", "tickSize": 3, "labelPadding": 1, "labelFont": "Liberation Sans", "labelFontSize": 9, "labelColor": "#000000", "domainColor": "#000000", "tickColor": "#000000", "labelOverlap": false, "labelFlush": false}},
  "y2": {"field": "b"},
  "color": {"field": "col", "type": "nominal", "scale": null}
 }},
{"data": {"name": "dyCloud"},
 "mark": {"type": "line", "strokeDash": [3, 2], "strokeWidth": 1, "color": "#d060d0", "clip": true},
 "encoding": {"x": {"field": "d", "type": "quantitative", "title": null}, "y": {"field": "a", "type": "quantitative", "title": null}}},
{"data": {"name": "dyCloud"},
 "mark": {"type": "line", "strokeDash": [3, 2], "strokeWidth": 1, "color": "#d060d0", "clip": true},
 "encoding": {"x": {"field": "d", "type": "quantitative", "title": null}, "y": {"field": "b", "type": "quantitative", "title": null}}},
{"data": {"name": "dyGray"},
 "mark": {"type": "line", "strokeDash": [3, 3], "strokeWidth": 1, "color": "#8a8a8a", "clip": true},
 "encoding": {"x": {"field": "d", "type": "quantitative", "title": null}, "y": {"field": "v", "type": "quantitative", "title": null}, "detail": {"field": "id", "type": "nominal"}}},
{"data": {"name": "dyLev"},
 "mark": {"type": "rule", "strokeWidth": 1},
 "encoding": {"y": {"field": "v", "type": "quantitative", "title": null}, "color": {"field": "col", "type": "nominal", "scale": null}}},
{"data": {"name": "dySeg"},
 "mark": {"type": "rule", "strokeWidth": 1, "clip": true},
 "encoding": {"x": {"field": "x1", "type": "quantitative", "title": null}, "x2": {"field": "x2"}, "y": {"field": "y1", "type": "quantitative", "title": null}, "y2": {"field": "y2"}, "color": {"field": "col", "type": "nominal", "scale": null}}},
{"data": {"name": "dyDash"},
 "mark": {"type": "rule", "strokeWidth": 1, "strokeDash": [4, 3], "clip": true},
 "encoding": {"x": {"field": "x1", "type": "quantitative", "title": null}, "x2": {"field": "x2"}, "y": {"field": "y1", "type": "quantitative", "title": null}, "y2": {"field": "y2"}, "color": {"field": "col", "type": "nominal", "scale": null}}},
{"data": {"name": "dyCh"},
 "mark": {"type": "line", "strokeWidth": 1, "color": "#a8a8a8", "clip": true},
 "encoding": {"x": {"field": "d", "type": "quantitative", "title": null}, "y": {"field": "v", "type": "quantitative", "title": null}}},
{"data": {"name": "dy"},
 "mark": {"type": "rule", "strokeWidth": 1, "color": "#000000", "clip": true},
 "encoding": {"x": {"field": "d", "type": "quantitative", "title": null}, "y": {"field": "l", "type": "quantitative", "title": null}, "y2": {"field": "h"}}},
{"data": {"name": "dy"},
 "mark": {"type": "bar", "orient": "vertical", "size": 5, "stroke": "#000000", "strokeWidth": 1, "clip": true},
 "encoding": {"x": {"field": "d", "type": "quantitative", "title": null}, "y": {"field": "o", "type": "quantitative", "title": null}, "y2": {"field": "c"},
  "fill": {"condition": {"test": "datum.c >= datum.o", "value": "#ffffff"}, "value": "#000000"}}},
{"data": {"name": "dy"},
 "mark": {"type": "line", "strokeWidth": 2, "color": "#0b6b0b", "clip": true},
 "encoding": {"x": {"field": "d", "type": "quantitative", "title": null}, "y": {"field": "kj", "type": "quantitative", "title": null}}},
{"data": {"name": "dy"},
 "mark": {"type": "line", "strokeWidth": 2, "color": "#e01010", "clip": true},
 "encoding": {"x": {"field": "d", "type": "quantitative", "title": null}, "y": {"field": "tk", "type": "quantitative", "title": null}}},
{"data": {"name": "dySmall"},
 "mark": {"type": "text", "font": "Liberation Sans", "fontSize": 8, "color": "#2a2a8a", "align": "right", "baseline": "bottom", "dy": -1},
 "encoding": {"x": {"field": "d", "type": "quantitative", "title": null}, "y": {"field": "v", "type": "quantitative", "title": null}, "text": {"field": "t"}}},
{"data": {"name": "dyAnn"},
 "mark": {"type": "text", "font": "Liberation Serif", "fontWeight": "bold", "fontSize": 18, "color": "#14143c", "align": "center", "baseline": "middle"},
 "encoding": {"x": {"field": "d", "type": "quantitative", "title": null}, "y": {"field": "v", "type": "quantitative", "title": null}, "text": {"field": "t"}}},
{"data": {"values": [{}]},
 "mark": {"type": "text", "text": "GBPJPY,Daily  141.72 142.01 141.54 141.90", "font": "Liberation Sans", "fontSize": 9, "color": "#000000", "align": "left", "baseline": "middle"},
 "encoding": {"x": {"datum": -6.0}, "y": {"datum": 148.55}}},
{"data": {"name": "dyLev"},
 "mark": {"type": "bar", "orient": "horizontal", "size": 12},
 "encoding": {"x": {"datum": 68.15}, "x2": {"datum": 72.4}, "y": {"field": "v", "type": "quantitative", "title": null}, "fill": {"field": "bg", "type": "nominal", "scale": null}}},
{"data": {"name": "dyLev"},
 "mark": {"type": "text", "font": "Liberation Sans", "fontSize": 9, "color": "#ffffff", "align": "center", "baseline": "middle"},
 "encoding": {"x": {"datum": 70.3}, "y": {"field": "v", "type": "quantitative", "title": null}, "text": {"field": "lbl"}}}
]
}
]
}
